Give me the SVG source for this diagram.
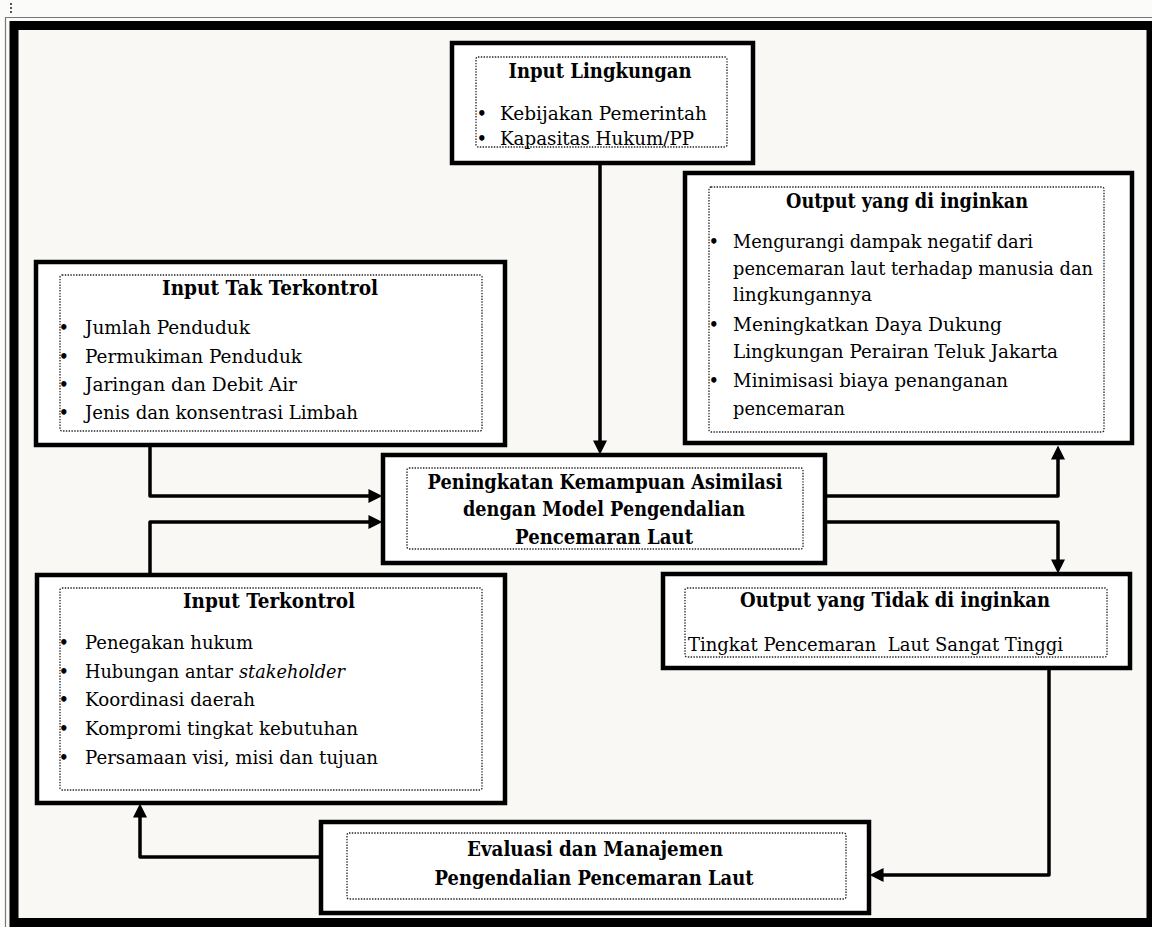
<svg xmlns="http://www.w3.org/2000/svg" width="1152" height="927" viewBox="0 0 1152 927">
<style>
.box{fill:#fff;stroke:#000;stroke-width:4.5}
.inner{fill:none;stroke:#222;stroke-width:1.3;stroke-dasharray:1.4 1.4}
.t{font-family:"DejaVu Serif","Liberation Serif",serif;font-size:19px;fill:#000}
.b{font-family:"DejaVu Serif","Liberation Serif",serif;font-size:20px;font-weight:bold;fill:#000;text-anchor:middle}
.bul{font-family:"DejaVu Sans",sans-serif;font-size:15px;font-weight:bold;fill:#000}
.con{fill:none;stroke:#000;stroke-width:3.5;stroke-linejoin:round}
</style>
<defs>
<marker id="arr" viewBox="0 0 10 10" refX="4.7" refY="5" markerWidth="15" markerHeight="14" markerUnits="userSpaceOnUse" orient="auto">
<path d="M0,0 L10,5 L0,10 z" fill="#000"/>
</marker>
</defs>
<rect x="0" y="0" width="1152" height="927" fill="#fbfbfa"/>
<line x1="11" y1="3" x2="11" y2="15" stroke="#555" stroke-width="2" stroke-dasharray="2 2"/>
<path d="M5.5,927 V17.5 H1152" fill="none" stroke="#777" stroke-width="1.2"/>
<rect x="14" y="25.5" width="1137" height="897" fill="#f9f8f4" stroke="#000" stroke-width="9"/>

<g id="connectors">
<path class="con" d="M600,163 V447" marker-end="url(#arr)"/>
<path class="con" d="M150,445 V496 H375" marker-end="url(#arr)"/>
<path class="con" d="M150,575 V522 H375" marker-end="url(#arr)"/>
<path class="con" d="M825,496 H1058 V453" marker-end="url(#arr)"/>
<path class="con" d="M825,522 H1058 V566" marker-end="url(#arr)"/>
<path class="con" d="M1049,668 V875 H877" marker-end="url(#arr)"/>
<path class="con" d="M321,857 H140 V811" marker-end="url(#arr)"/>
</g>

<g id="input-lingkungan">
<rect class="box" x="452" y="43" width="301" height="120"/>
<rect class="inner" x="476" y="57" width="251" height="90" rx="2"/>
<text class="b" x="600" y="78" textLength="183" lengthAdjust="spacingAndGlyphs">Input Lingkungan</text>
<text class="bul" x="477" y="119">•</text>
<text class="t" x="500" y="120" textLength="207" lengthAdjust="spacingAndGlyphs">Kebijakan Pemerintah</text>
<text class="bul" x="477" y="144">•</text>
<text class="t" x="500" y="145" textLength="194" lengthAdjust="spacingAndGlyphs">Kapasitas Hukum/PP</text>
</g>

<g id="output-diinginkan">
<rect class="box" x="685" y="173" width="447" height="270"/>
<rect class="inner" x="709" y="187" width="395" height="245" rx="2"/>
<text class="b" x="907" y="208" textLength="242" lengthAdjust="spacingAndGlyphs">Output yang di inginkan</text>
<text class="bul" x="709" y="247">•</text>
<text class="t" x="733" y="248" textLength="300" lengthAdjust="spacingAndGlyphs">Mengurangi dampak negatif dari</text>
<text class="t" x="733" y="275" textLength="360" lengthAdjust="spacingAndGlyphs">pencemaran laut terhadap manusia dan</text>
<text class="t" x="733" y="301" textLength="139" lengthAdjust="spacingAndGlyphs">lingkungannya</text>
<text class="bul" x="709" y="330">•</text>
<text class="t" x="733" y="331" textLength="269" lengthAdjust="spacingAndGlyphs">Meningkatkan Daya Dukung</text>
<text class="t" x="733" y="358" textLength="325" lengthAdjust="spacingAndGlyphs">Lingkungan Perairan Teluk Jakarta</text>
<text class="bul" x="709" y="386">•</text>
<text class="t" x="733" y="387" textLength="275" lengthAdjust="spacingAndGlyphs">Minimisasi biaya penanganan</text>
<text class="t" x="733" y="415" textLength="112" lengthAdjust="spacingAndGlyphs">pencemaran</text>
</g>

<g id="input-tak-terkontrol">
<rect class="box" x="36" y="262" width="469" height="183"/>
<rect class="inner" x="60" y="275" width="422" height="156" rx="2"/>
<text class="b" x="270" y="295" textLength="216" lengthAdjust="spacingAndGlyphs">Input Tak Terkontrol</text>
<text class="bul" x="59" y="333">•</text>
<text class="t" x="85" y="334" textLength="165" lengthAdjust="spacingAndGlyphs">Jumlah Penduduk</text>
<text class="bul" x="59" y="362">•</text>
<text class="t" x="85" y="363" textLength="217" lengthAdjust="spacingAndGlyphs">Permukiman Penduduk</text>
<text class="bul" x="59" y="390">•</text>
<text class="t" x="85" y="391" textLength="212" lengthAdjust="spacingAndGlyphs">Jaringan dan Debit Air</text>
<text class="bul" x="59" y="418">•</text>
<text class="t" x="85" y="419" textLength="273" lengthAdjust="spacingAndGlyphs">Jenis dan konsentrasi Limbah</text>
</g>

<g id="peningkatan">
<rect class="box" x="383" y="455" width="442" height="108"/>
<rect class="inner" x="407" y="468" width="396" height="81" rx="2"/>
<text class="b" x="605" y="489" textLength="355" lengthAdjust="spacingAndGlyphs">Peningkatan Kemampuan Asimilasi</text>
<text class="b" x="604" y="516" textLength="282" lengthAdjust="spacingAndGlyphs">dengan Model Pengendalian</text>
<text class="b" x="604" y="544" textLength="178" lengthAdjust="spacingAndGlyphs">Pencemaran Laut</text>
</g>

<g id="input-terkontrol">
<rect class="box" x="37" y="575" width="468" height="228"/>
<rect class="inner" x="60" y="588" width="422" height="202" rx="2"/>
<text class="b" x="269" y="608" textLength="172" lengthAdjust="spacingAndGlyphs">Input Terkontrol</text>
<text class="bul" x="59" y="648">•</text>
<text class="t" x="85" y="649" textLength="168" lengthAdjust="spacingAndGlyphs">Penegakan hukum</text>
<text class="bul" x="59" y="677">•</text>
<text class="t" x="85" y="678" textLength="148" lengthAdjust="spacingAndGlyphs">Hubungan antar</text>
<text class="t" x="239" y="678" font-style="italic" textLength="106" lengthAdjust="spacingAndGlyphs">stakeholder</text>
<text class="bul" x="59" y="705">•</text>
<text class="t" x="85" y="706" textLength="170" lengthAdjust="spacingAndGlyphs">Koordinasi daerah</text>
<text class="bul" x="59" y="734">•</text>
<text class="t" x="85" y="735" textLength="273" lengthAdjust="spacingAndGlyphs">Kompromi tingkat kebutuhan</text>
<text class="bul" x="59" y="763">•</text>
<text class="t" x="85" y="764" textLength="293" lengthAdjust="spacingAndGlyphs">Persamaan visi, misi dan tujuan</text>
</g>

<g id="output-tidak-diinginkan">
<rect class="box" x="663" y="574" width="467" height="94"/>
<rect class="inner" x="685" y="588" width="422" height="69" rx="2"/>
<text class="b" x="895" y="607" textLength="310" lengthAdjust="spacingAndGlyphs">Output yang Tidak di inginkan</text>
<text class="t" x="688" y="651" textLength="375" lengthAdjust="spacingAndGlyphs">Tingkat Pencemaran&#160; Laut Sangat Tinggi</text>
</g>

<g id="evaluasi">
<rect class="box" x="321" y="822" width="548" height="91"/>
<rect class="inner" x="347" y="833" width="499" height="66" rx="2"/>
<text class="b" x="595" y="856" textLength="256" lengthAdjust="spacingAndGlyphs">Evaluasi dan Manajemen</text>
<text class="b" x="594" y="885" textLength="319" lengthAdjust="spacingAndGlyphs">Pengendalian Pencemaran Laut</text>
</g>
</svg>
